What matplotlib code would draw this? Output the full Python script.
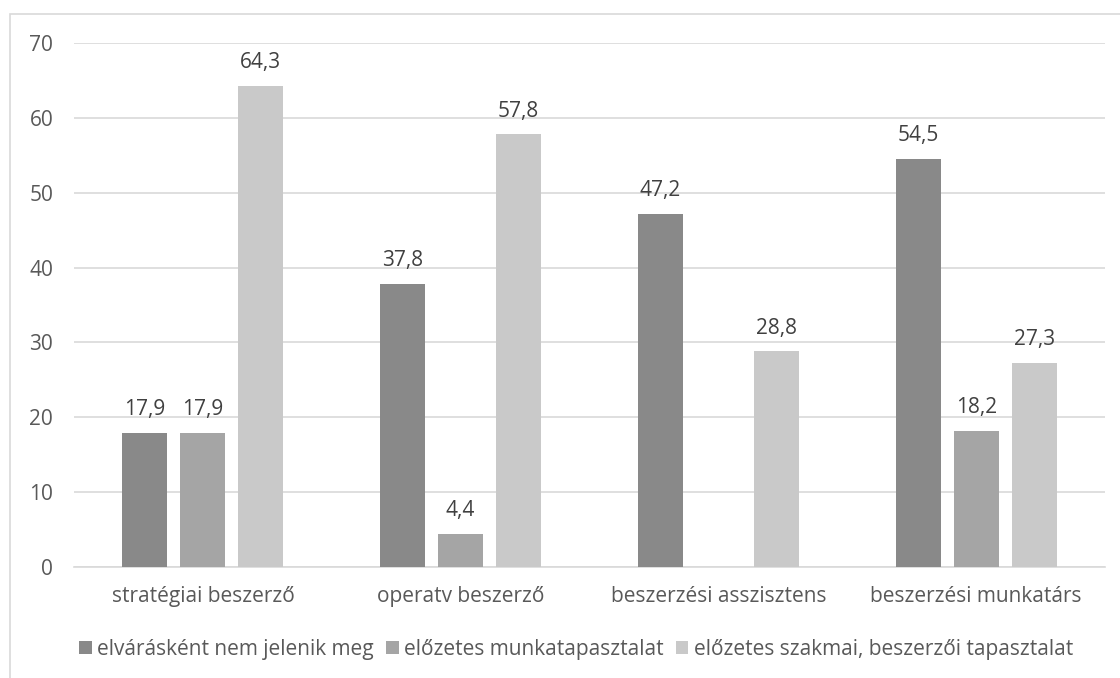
import numpy as np
import matplotlib
matplotlib.use("Agg")
import matplotlib.pyplot as plt
from matplotlib.patches import Rectangle

categories = ["stratégiai beszerző", "operatv beszerző",
              "beszerzési asszisztens", "beszerzési munkatárs"]
series_names = ["elvárásként nem jelenik meg", "előzetes munkatapasztalat",
                "előzetes szakmai, beszerzői tapasztalat"]
not_required = [17.9, 37.8, 47.2, 54.5]
prior_work = [17.9, 4.4, np.nan, 18.2]
prior_professional = [64.3, 57.8, 28.8, 27.3]
y_ticks = [0, 10, 20, 30, 40, 50, 60, 70]

colors = ["#898989", "#a5a5a5", "#c9c9c9"]
text_color = "#595959"
grid_color = "#d9d9d9"
fs = 15

plt.rcParams["font.family"] = ["Open Sans", "DejaVu Sans"]

W, H = 1120, 678
fig = plt.figure(figsize=(W / 100, H / 100), dpi=100)
ax = fig.add_axes([74 / W, 1 - 567 / H, (1105 - 74) / W, (567 - 43) / H])

x = np.arange(len(categories))
bar_w = 0.175
step = 0.225
all_series = [not_required, prior_work, prior_professional]
for i, (vals, name, col) in enumerate(zip(all_series, series_names, colors)):
    pos = x + (i - 1) * step
    v = np.array(vals, dtype=float)
    ax.bar(pos, np.nan_to_num(v), width=bar_w, color=col, label=name, zorder=3)
    for p, val in zip(pos, v):
        if not np.isnan(val):
            ax.text(p, val + 1.7, f"{val:.1f}".replace(".", ","), ha="center",
                    va="bottom", fontsize=fs, color="#404040")

ax.set_xlim(-0.5, len(categories) - 0.5)
ax.set_ylim(0, 70)
ax.set_yticks(y_ticks)
ax.set_yticklabels([str(t) for t in y_ticks])
ax.set_xticks(x)
ax.set_xticklabels(categories)
ax.tick_params(axis="both", length=0, colors=text_color, labelsize=fs)
ax.tick_params(axis="y", pad=15)
ax.tick_params(axis="x", pad=14)
ax.yaxis.grid(True, color=grid_color, linewidth=1.2, zorder=0)
for s in ["top", "right", "left"]:
    ax.spines[s].set_visible(False)
ax.spines["bottom"].set_color(grid_color)
ax.spines["bottom"].set_linewidth(1.2)
ax.set_axisbelow(True)

leg = fig.legend(loc="center", bbox_to_anchor=(576 / W, 1 - 649 / H), ncol=3,
                 frameon=False, fontsize=fs, handlelength=0.6, handleheight=0.6,
                 handletextpad=0.25, columnspacing=0.6)
for t in leg.get_texts():
    t.set_color(text_color)

# chart frame
fig.patches.append(Rectangle((10 / W, -0.1), 1.2, 1 - 14 / H + 0.1,
                             transform=fig.transFigure, fill=False,
                             edgecolor="#d9d9d9", linewidth=1.2))

fig.savefig("out.png", dpi=100)
